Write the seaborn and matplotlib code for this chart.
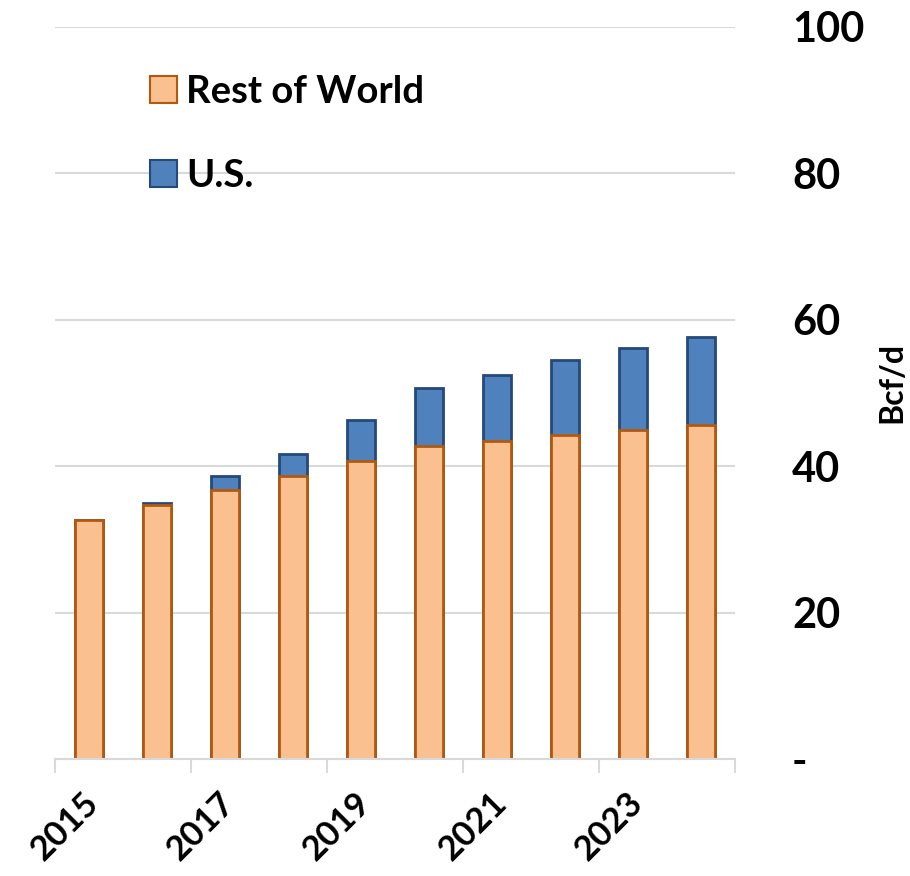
import numpy as np
import pandas as pd
import seaborn as sns
import matplotlib.pyplot as plt
import matplotlib.transforms as mtransforms
from matplotlib.patches import Patch

# ----------------------------
# DATA (Bcf/d)
# ----------------------------
years = ["2015", "2016", "2017", "2018", "2019", "2020", "2021", "2022", "2023", "2024"]
rest_of_world = [32.7, 34.7, 36.7, 38.7, 40.7, 42.8, 43.5, 44.2, 44.9, 45.6]
us = [0.0, 0.3, 1.9, 2.9, 5.6, 7.9, 9.0, 10.3, 11.2, 12.1]
y_ticks = [0, 20, 40, 60, 80, 100]
y_tick_labels = ["-", "20", "40", "60", "80", "100"]
x_label_years = ["2015", "2017", "2019", "2021", "2023"]

ROW_FILL, ROW_EDGE = "#FAC090", "#B3590F"
US_FILL, US_EDGE = "#4F81BD", "#25497A"
GRID = "#D9D9D9"

df = pd.DataFrame({"year": years, "row": rest_of_world, "us": us})
df["total"] = df["row"] + df["us"]

# ----------------------------
# STYLE
# ----------------------------
sns.set_theme(style="white")
plt.rcParams["font.family"] = ["Lato", "DejaVu Sans"]
plt.rcParams["font.weight"] = "bold"
plt.rcParams["text.color"] = "black"
plt.rcParams["axes.labelcolor"] = "black"
plt.rcParams["xtick.labelcolor"] = "black"
plt.rcParams["ytick.labelcolor"] = "black"

fig = plt.figure(figsize=(9.1, 8.76), dpi=100)
ax = fig.add_axes([55 / 910, 117 / 876, 680 / 910, 732 / 876])

# ----------------------------
# STACKED BARS
# ----------------------------
sns.barplot(data=df, x="year", y="total", color=US_FILL, edgecolor=US_EDGE,
            linewidth=2, width=0.41, saturation=1, errorbar=None, ax=ax, zorder=3)
sns.barplot(data=df, x="year", y="row", color=ROW_FILL, edgecolor=ROW_EDGE,
            linewidth=2, width=0.41, saturation=1, errorbar=None, ax=ax, zorder=3)

# ----------------------------
# AXES
# ----------------------------
ax.set_xlim(-0.5, len(years) - 0.5)
ax.set_ylim(0, 100)
for s in ["top", "left", "right"]:
    ax.spines[s].set_visible(False)
ax.spines["bottom"].set_color(GRID)
ax.spines["bottom"].set_linewidth(1.5)
ax.spines["bottom"].set_zorder(4)

# y axis on the right
ax.yaxis.tick_right()
ax.set_yticks(y_ticks)
ax.set_yticklabels(y_tick_labels, fontsize=30, fontweight="bold", color="black")
ax.tick_params(axis="y", length=0, pad=41)
ax.grid(axis="y", color=GRID, linewidth=1.5, zorder=0)
ax.set_axisbelow(True)
ax.set_ylabel("Bcf/d", fontsize=23, fontweight="bold", color="black")
ax.yaxis.set_label_position("right")
ax.yaxis.set_label_coords(1.209, 0.515)

# x axis: ticks at every second category boundary, labels under bars
ax.set_xticks(np.arange(-0.5, len(years), 2))
ax.set_xticklabels([])
ax.tick_params(axis="x", which="major", bottom=True, length=10, width=1.5,
               color=GRID, direction="out")
label_pos = [years.index(y) for y in x_label_years]
ax.set_xticks(label_pos, minor=True)
ax.set_xticklabels(x_label_years, minor=True, rotation=45, ha="right",
                   fontsize=25, fontweight="bold", color="black")
ax.tick_params(axis="x", which="minor", bottom=True, length=0, pad=20)
offset = mtransforms.ScaledTranslation(16 / 100, 0, fig.dpi_scale_trans)
for lbl in ax.get_xticklabels(minor=True):
    lbl.set_transform(lbl.get_transform() + offset)
ax.set_xlabel("")

# ----------------------------
# LEGEND
# ----------------------------
handles = [Patch(facecolor=ROW_FILL, edgecolor=ROW_EDGE, linewidth=1.5, label="Rest of World"),
           Patch(facecolor=US_FILL, edgecolor=US_EDGE, linewidth=1.5, label="U.S."),
           ]
leg = ax.legend(handles=handles, loc="upper left", bbox_to_anchor=(0.117, 0.955),
                frameon=False, fontsize=27.5, handlelength=0.7, handleheight=0.7,
                handletextpad=0.25, labelspacing=1.3, borderaxespad=0)
for t in leg.get_texts():
    t.set_fontweight("bold")
    t.set_color("black")

fig.savefig("out.png", dpi=100)
